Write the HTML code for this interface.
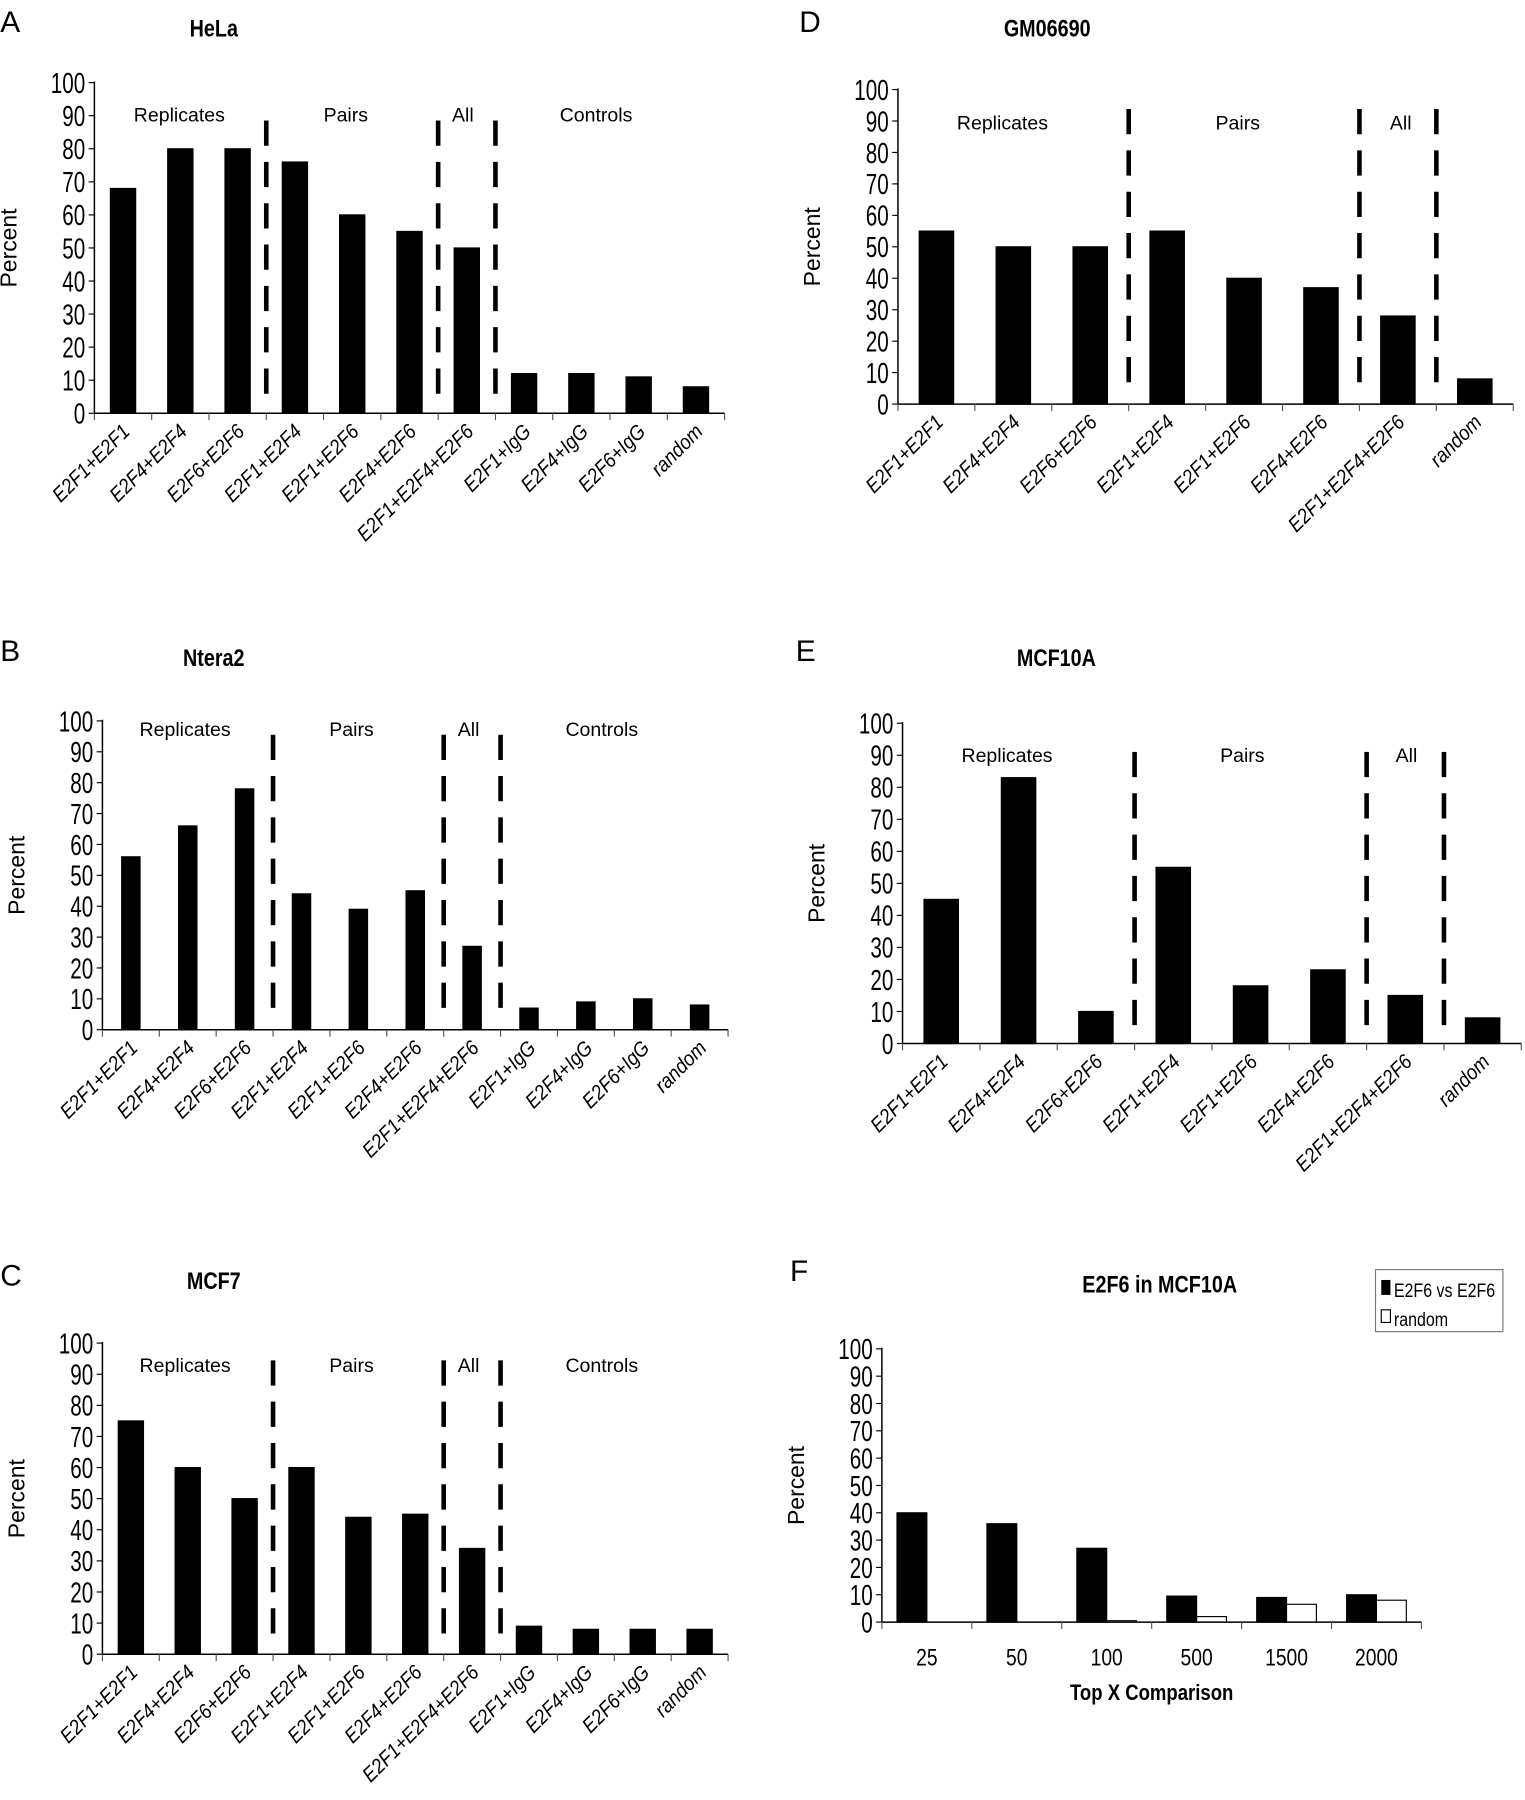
<!DOCTYPE html>
<html><head><meta charset="utf-8"><style>
html,body{margin:0;padding:0;background:#fff;}
svg{display:block;}
text{font-family:"Liberation Sans",sans-serif;fill:#000;}
</style></head><body>
<svg id="fig" width="1525" height="1800" viewBox="0 0 1328 1568" xmlns="http://www.w3.org/2000/svg"></svg>
<script>
// Panel data
const catsControls = ["E2F1+E2F1","E2F4+E2F4","E2F6+E2F6","E2F1+E2F4","E2F1+E2F6","E2F4+E2F6","E2F1+E2F4+E2F6","E2F1+IgG","E2F4+IgG","E2F6+IgG","random"];
const catsNoControls = ["E2F1+E2F1","E2F4+E2F4","E2F6+E2F6","E2F1+E2F4","E2F1+E2F6","E2F4+E2F6","E2F1+E2F4+E2F6","random"];
const valsHeLa = [68,80,80,76,60,55,50,12,12,11,8];
const valsNtera2 = [56,66,78,44,39,45,27,7,9,10,8];
const valsMCF7 = [75,60,50,60,44,45,34,9,8,8,8];
const valsGM06690 = [55,50,50,55,40,37,28,8];
const valsMCF10A = [45,83,10,55,18,23,15,8];
const catsF = ["25","50","100","500","1500","2000"];
const valsF_e2f6 = [40,36,27,9.5,9,10];
const valsF_random = [0,0,0.5,2,6.5,8];
const yTicks = [0,10,20,30,40,50,60,70,80,90,100];

const NS="http://www.w3.org/2000/svg";
const svg=document.getElementById('fig');
function el(tag,attrs,parent){const e=document.createElementNS(NS,tag);for(const k in attrs)e.setAttribute(k,attrs[k]);(parent||svg).appendChild(e);return e;}
function txt(s,attrs,parent){const t=el('text',attrs,parent);t.textContent=s;return t;}

function panel(p){
  const g=el('g',{});
  
  
  const yS=v=>p.y0-(p.y0-p.y100)*v/100;
  const n=p.cats.length, cw=(p.right-p.x0)/n;
  const xC=i=>p.x0+cw*(i+0.5);
  const L=txt(p.letter,{x:p.lx,y:p.ly,'font-size':26,'font-family':'Liberation Sans'},g);
  
  
  const T=txt(p.title,{x:0,y:0,'font-size':21,'font-weight':'bold','text-anchor':'middle',transform:`translate(${p.tx},${p.ty}) scale(0.82,1)`},g);
  
  
  const ya=el('line',{x1:p.x0,y1:p.y100-1,x2:p.x0,y2:p.y0,stroke:'#000','stroke-width':1.3},g);
  
  
  yTicks.forEach(v=>{
    el('line',{x1:p.x0-5,x2:p.x0,y1:yS(v),y2:yS(v),stroke:'#000','stroke-width':1},g);
    const t=txt(String(v),{x:0,y:0,'font-size':25,'text-anchor':'end',transform:`translate(${p.x0-8},${yS(v)+9}) scale(0.72,1)`},g);
    
    
  });
  const yt=txt('Percent',{x:0,y:0,'font-size':20,'text-anchor':'middle','font-family':'DejaVu Sans','transform':`translate(${p.x0-68},${(p.y0+p.y100)/2}) rotate(-90)`},g);
  
  
  p.series.forEach((s,si)=>{
    s.vals.forEach((v,i)=>{
      const bx=p.nser===2? xC(i)-p.bw+si*p.bw : xC(i)-p.bw/2;
      const r=el('rect',{x:bx,y:yS(v),width:p.bw,height:p.y0-yS(v),fill:s.fill,stroke:'#000','stroke-width':1},g);
      
      
    });
  });
  const xa=el('line',{x1:p.x0,y1:p.y0,x2:p.right,y2:p.y0,stroke:'#000','stroke-width':1.3},g);
  
  
  for(let i=0;i<=n;i++)el('line',{x1:p.x0+cw*i,x2:p.x0+cw*i,y1:p.y0,y2:p.y0+6,stroke:'#555','stroke-width':1},g);
  p.cats.forEach((c,i)=>{
    let t;
    if(p.rot) t=txt(c,{x:0,y:0,'font-size':18,'font-style':'italic','font-family':'Liberation Sans','text-anchor':'end',transform:`translate(${xC(i)+7},${p.y0+17}) rotate(-45) scale(0.9,1)`},g);
    else t=txt(c,{x:0,y:0,'font-size':21,'text-anchor':'middle',transform:`translate(${xC(i)},${p.y0+38}) scale(0.8,1)`},g);
    
    
  });
  (p.groups||[]).forEach(gr=>{
    const t=txt(gr[0],{x:gr[1],y:p.gy,'font-size':17,'text-anchor':'middle','font-family':'DejaVu Sans'},g);
    
    
  });
  (p.dashIdx||[]).forEach(k=>{
    const dx=p.x0+cw*k;
    const d=el('line',{x1:dx,x2:dx,y1:p.d1,y2:p.d2,stroke:'#000','stroke-width':4,'stroke-dasharray':'22,14'},g);
    
    
  });
  return g;
}

panel({key:'hela',letter:'A',lx:0,ly:28,title:'HeLa',tx:186,ty:32,x0:82,y0:360,y100:72,right:631,cats:catsControls,bw:22,nser:1,rot:true,
  series:[{name:'pct',vals:valsHeLa,fill:'#000'}],
  groups:[['Replicates',156],['Pairs',301],['All',403],['Controls',519]],gy:106,dashIdx:[3,6,7],d1:105,d2:355});
panel({key:'ntera2',letter:'B',lx:0,ly:576,title:'Ntera2',tx:186,ty:580,x0:89,y0:897,y100:628,right:634,cats:catsControls,bw:16,nser:1,rot:true,
  series:[{name:'pct',vals:valsNtera2,fill:'#000'}],
  groups:[['Replicates',161],['Pairs',306],['All',408],['Controls',524]],gy:641,dashIdx:[3,6,7],d1:640,d2:880});
panel({key:'mcf7',letter:'C',lx:0,ly:1120,title:'MCF7',tx:186,ty:1123,x0:89,y0:1441,y100:1170,right:634,cats:catsControls,bw:22,nser:1,rot:true,
  series:[{name:'pct',vals:valsMCF7,fill:'#000'}],
  groups:[['Replicates',161],['Pairs',306],['All',408],['Controls',524]],gy:1195,dashIdx:[3,6,7],d1:1185,d2:1425});
panel({key:'gm06690',letter:'D',lx:696,ly:28,title:'GM06690',tx:912,ty:32,x0:782,y0:352,y100:78,right:1318,cats:catsNoControls,bw:30,nser:1,rot:true,
  series:[{name:'pct',vals:valsGM06690,fill:'#000'}],
  groups:[['Replicates',873],['Pairs',1078],['All',1220]],gy:113,dashIdx:[3,6,7],d1:95,d2:335});
panel({key:'mcf10a',letter:'E',lx:693,ly:576,title:'MCF10A',tx:920,ty:580,x0:786,y0:909,y100:630,right:1325,cats:catsNoControls,bw:30,nser:1,rot:true,
  series:[{name:'pct',vals:valsMCF10A,fill:'#000'}],
  groups:[['Replicates',877],['Pairs',1082],['All',1225]],gy:664,dashIdx:[3,6,7],d1:655,d2:895});
const pf=panel({key:'e2f6-mcf10a',letter:'F',lx:688,ly:1116,title:'E2F6  in MCF10A',tx:1010,ty:1126,x0:768,y0:1413,y100:1175,right:1238,cats:catsF,bw:26,nser:2,rot:false,
  series:[{name:'e2f6-vs-e2f6',vals:valsF_e2f6,fill:'#000'},{name:'random',vals:valsF_random,fill:'#fff'}]});
const xt=txt('Top X Comparison',{x:0,y:0,'font-size':19,'font-weight':'bold','text-anchor':'middle',transform:'translate(1003,1481) scale(0.85,1)'},pf);


const lg=el('g',{},pf);


el('rect',{x:1198,y:1106,width:111,height:54,fill:'#fff',stroke:'#777','stroke-width':1},lg);
const l1=el('rect',{x:1203,y:1115,width:8,height:13,fill:'#000'},lg);


const l1t=txt('E2F6 vs E2F6',{x:0,y:0,'font-size':17,transform:'translate(1214,1130) scale(0.82,1)'},lg);


const l2=el('rect',{x:1203,y:1141,width:8,height:11,fill:'#fff',stroke:'#000','stroke-width':1},lg);


const l2t=txt('random',{x:0,y:0,'font-size':17,transform:'translate(1214,1155) scale(0.82,1)'},lg);


</script>
</body></html>
